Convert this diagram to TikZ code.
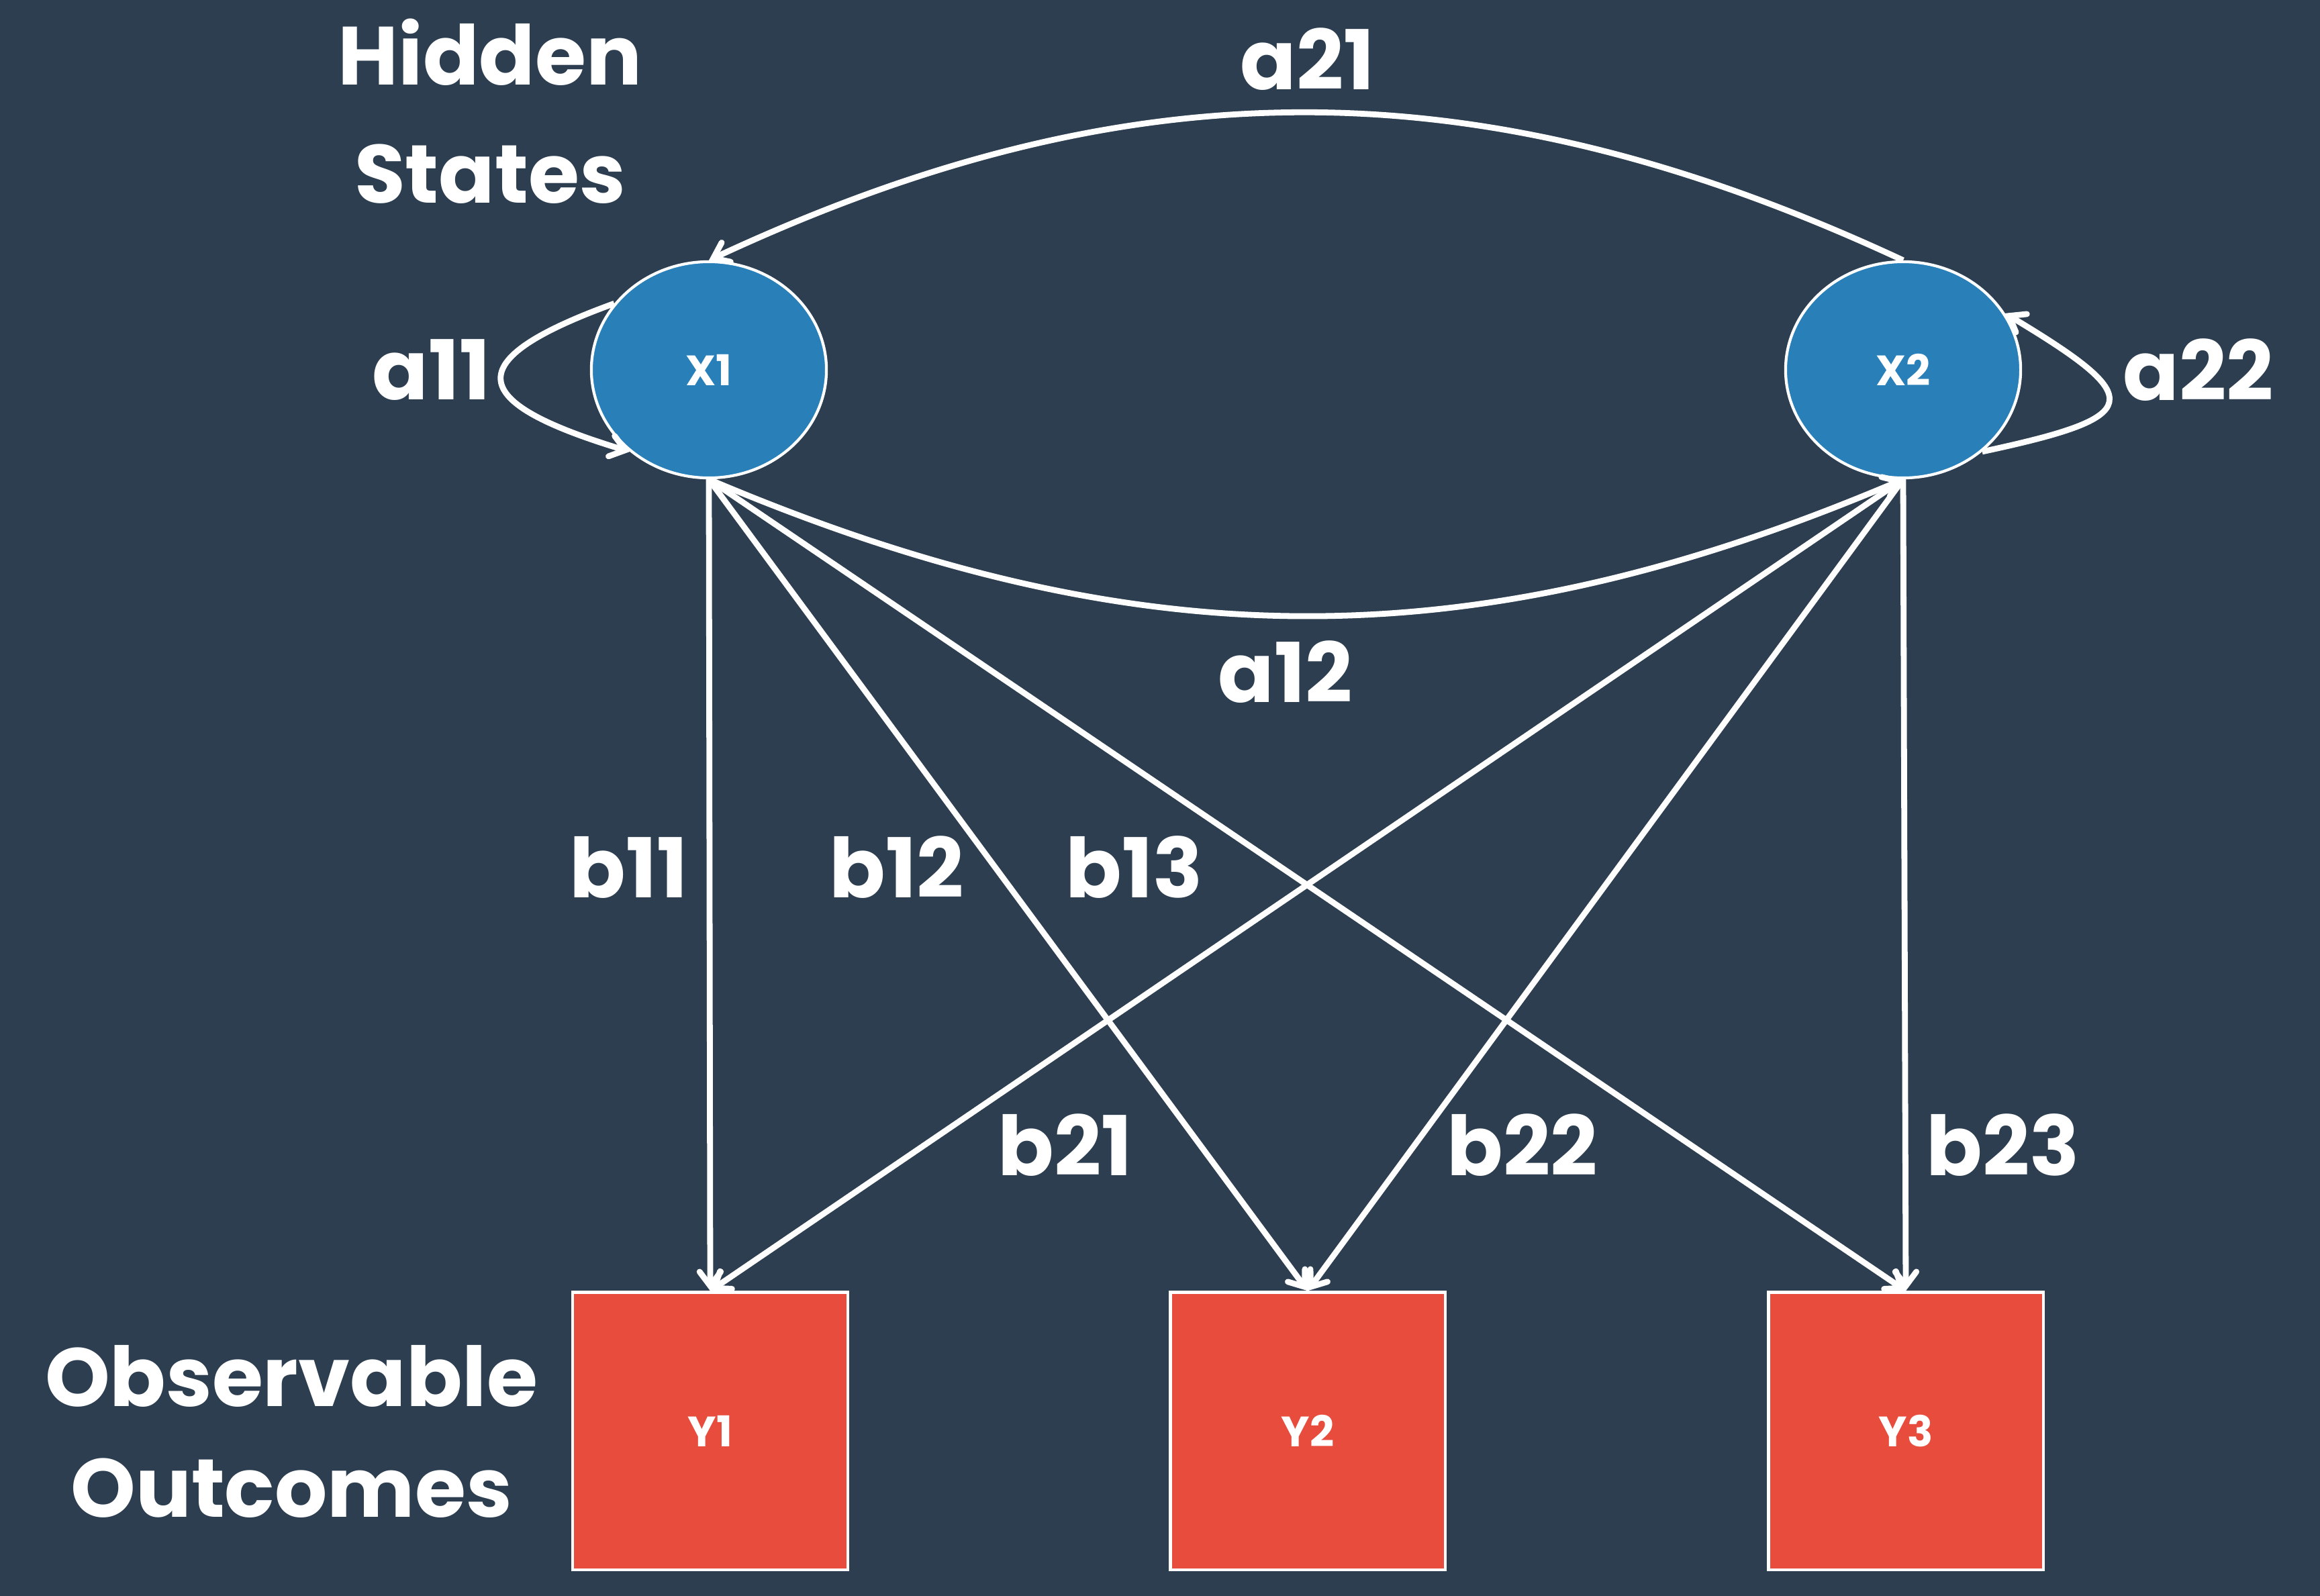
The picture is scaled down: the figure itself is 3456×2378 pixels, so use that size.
\documentclass[tikz,border=0pt]{standalone}
\usepackage{fontspec}
\setmainfont{Poppins}
\usetikzlibrary{arrows.meta,shapes.geometric}
\definecolor{bg}{HTML}{2C3E50}
\definecolor{blu}{HTML}{2980B9}
\definecolor{rd}{HTML}{E74C3C}
\begin{document}
\begin{tikzpicture}[x=0.01cm,y=-0.01cm,
  state/.style={ellipse, fill=blu, draw=white, line width=1.2pt, minimum width=3.5cm, minimum height=3.22cm, inner sep=0pt, text=white, font=\fontsize{18}{20}\selectfont\bfseries},
  obs/.style={rectangle, fill=rd, draw=white, line width=1.2pt, minimum width=4.09cm, minimum height=4.13cm, inner sep=0pt, text=white, font=\fontsize{18}{20}\selectfont\bfseries},
  lab/.style={text=white, font=\fontsize{35}{48}\selectfont\bfseries, inner sep=0pt, align=center},
  arr/.style={draw=white, line width=2.5pt, -{Straight Barb[length=6pt,width=9pt,line cap=round]}}
]
\fill[bg] (0,0) rectangle (3456,2378);
\useasboundingbox (0,0) rectangle (3456,2378);

\node[state] (x1) at (1056,551) {X1};
\node[state] (x2) at (2835,551) {X2};
\node[obs] (y1) at (1058,2132) {Y1};
\node[obs] (y2) at (1948,2132) {Y2};
\node[obs] (y3) at (2839,2132) {Y3};

\node[lab, font=\fontsize{35}{50}\selectfont\bfseries] (hs) at (730,166) {Hidden\\States};
\node[lab, font=\fontsize{35}{47}\selectfont\bfseries] (oo) at (434,2133) {Observable\\Outcomes};
\node[lab] (la21) at (1948,88) {a21};
\node[lab] (la11) at (643,551) {a11};
\node[lab] (la22) at (3275,551) {a22};
\node[lab] (la12) at (1915,1001) {a12};
\node[lab] (lb11) at (937,1292) {b11};
\node[lab] (lb12) at (1336,1292) {b12};
\node[lab] (lb13) at (1690,1292) {b13};
\node[lab] (lb21) at (1587,1706) {b21};
\node[lab] (lb22) at (2268,1706) {b22};
\node[lab] (lb23) at (2984,1706) {b23};

\draw[arr] (x2.north) to[bend right=25] (x1.north);
\draw[arr] (x1.south) to[bend right=23] (x2.south);
\draw[arr] (x1.145) .. controls +(-237,86) and +(-241,-73) .. (x1.226);
\draw[arr] (x2.-46) .. controls +(243,-52) and +(213,128) .. (x2.29);

\draw[arr] (x1.south) -- (y1.north);
\draw[arr] (x1.south) -- (y2.north);
\draw[arr] (x1.south) -- (y3.north);
\draw[arr] (x2.south) -- (y1.north);
\draw[arr] (x2.south) -- (y2.north);
\draw[arr] (x2.south) -- (y3.north);
\end{tikzpicture}
\end{document}
